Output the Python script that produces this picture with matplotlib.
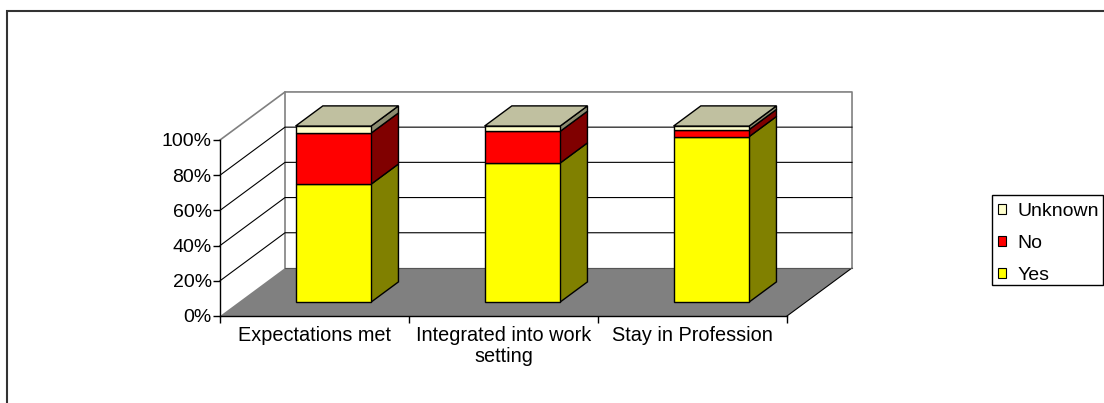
import matplotlib
matplotlib.use("Agg")
import matplotlib.pyplot as plt
from matplotlib.patches import Polygon, Rectangle, Patch
from matplotlib.ticker import PercentFormatter

plt.rcParams['font.family'] = ['Liberation Sans', 'DejaVu Sans']

# data (percent of answers)
categories = ['Expectations met', 'Integrated into work\nsetting', 'Stay in Profession']
series = ['Yes', 'No', 'Unknown']
yes = [67, 79, 94]
no = [29, 18, 4]
unknown = [4, 3, 2]
values = [yes, no, unknown]

front_cols = {'Yes': '#ffff00', 'No': '#ff0000', 'Unknown': '#ffffcc'}
side_cols = {'Yes': '#808000', 'No': '#800000', 'Unknown': '#8c8c70'}
top_col = '#c0c0a0'

# pseudo 3d setup: depth offset in data units
DX = 0.344
DY = 27.3
d0, d1 = 0.29, 0.71
bar_w = 0.40


def P(x, y, d):
    return (x + d * DX, y + d * DY)


W, H = 1104, 403
fig = plt.figure(figsize=(W / 100, H / 100), dpi=100)
ax = fig.add_axes([220 / W, (H - 316) / H, 567 / W, 176 / H])
ax.set_xlim(0, len(categories))
ax.set_ylim(0, 100)
ax.set_facecolor('none')

n = len(categories)
# floor
ax.add_patch(Polygon([P(0, 0, 0), P(n, 0, 0), P(n, 0, 1), P(0, 0, 1)],
                     closed=True, facecolor='#808080', edgecolor='none', clip_on=False, zorder=0))
ax.plot([P(n, 0, 0)[0], P(n, 0, 1)[0]], [P(n, 0, 0)[1], P(n, 0, 1)[1]],
        color='black', lw=0.8, clip_on=False, zorder=1)
# walls
wall_col = '#808080'
ax.plot([P(0, 100, 0)[0], P(0, 100, 1)[0], P(n, 100, 1)[0], P(n, 0, 1)[0]],
        [P(0, 100, 0)[1], P(0, 100, 1)[1], P(n, 100, 1)[1], P(n, 0, 1)[1]],
        color=wall_col, lw=1.2, clip_on=False, zorder=1)
ax.plot([P(0, 0, 1)[0], P(0, 100, 1)[0]], [P(0, 0, 1)[1], P(0, 100, 1)[1]],
        color=wall_col, lw=1.2, clip_on=False, zorder=1)
ax.plot([P(0, 0, 1)[0], P(n, 0, 1)[0]], [P(0, 0, 1)[1], P(n, 0, 1)[1]],
        color='#555555', lw=0.8, clip_on=False, zorder=1)
# gridlines (side wall + back wall)
for g in [20, 40, 60, 80]:
    xs = [P(0, g, 0)[0], P(0, g, 1)[0], P(n, g, 1)[0]]
    ys = [P(0, g, 0)[1], P(0, g, 1)[1], P(n, g, 1)[1]]
    ax.plot(xs, ys, color='black', lw=0.8, clip_on=False, zorder=1)

# bars
for i in range(n):
    x0 = i + 0.5 - bar_w / 2
    x1 = i + 0.5 + bar_w / 2
    base = 0
    for s, vals in zip(series, values):
        top = base + vals[i]
        front = [P(x0, base, d0), P(x1, base, d0), P(x1, top, d0), P(x0, top, d0)]
        side = [P(x1, base, d0), P(x1, base, d1), P(x1, top, d1), P(x1, top, d0)]
        ax.add_patch(Polygon(side, closed=True, facecolor=side_cols[s], edgecolor='black',
                             lw=1.0, clip_on=False, zorder=3))
        ax.add_patch(Polygon(front, closed=True, facecolor=front_cols[s], edgecolor='black',
                             lw=1.0, clip_on=False, zorder=4))
        base = top
    roof = [P(x0, base, d0), P(x1, base, d0), P(x1, base, d1), P(x0, base, d1)]
    ax.add_patch(Polygon(roof, closed=True, facecolor=top_col, edgecolor='black',
                         lw=1.0, clip_on=False, zorder=4))

# axes
for sp in ['top', 'right']:
    ax.spines[sp].set_visible(False)
ax.spines['left'].set_linewidth(1.0)
ax.spines['bottom'].set_linewidth(1.0)
ax.spines['left'].set_zorder(5)
ax.spines['bottom'].set_zorder(5)
ax.set_yticks([0, 20, 40, 60, 80, 100])
ax.yaxis.set_major_formatter(PercentFormatter(decimals=0))
ax.tick_params(axis='y', length=5, width=1.0, pad=1, labelsize=14)
ax.set_xticks(range(n + 1))
ax.set_xticklabels([])
ax.set_xticks([i + 0.5 for i in range(n)], minor=True)
ax.set_xticklabels(categories, minor=True, fontsize=14.3, linespacing=1.15)
ax.tick_params(axis='x', which='minor', length=0, pad=7)
ax.tick_params(axis='x', which='major', length=5, width=1.0)

# legend (frame drawn separately)
handles = [Patch(facecolor=front_cols[s], edgecolor='black', lw=0.8) for s in reversed(series)]
leg = fig.legend(handles, list(reversed(series)), loc='upper left',
                 bbox_to_anchor=(992 / W, 1 - 197 / H), fontsize=14,
                 handlelength=0.42, handleheight=0.42, handletextpad=0.6,
                 labelspacing=0.78, borderpad=0.3, borderaxespad=0,
                 frameon=False)
fig.add_artist(Rectangle((992 / W, 1 - 285 / H), 111 / W, 90 / H, transform=fig.transFigure,
                         fill=False, edgecolor='black', lw=1.0))

# outer chart border
fig.add_artist(Rectangle((7 / W, -0.05), 1.1, 1 - 11 / H + 0.05, transform=fig.transFigure,
                         fill=False, edgecolor='#333333', lw=1.5))

fig.savefig('out.png', dpi=100)
